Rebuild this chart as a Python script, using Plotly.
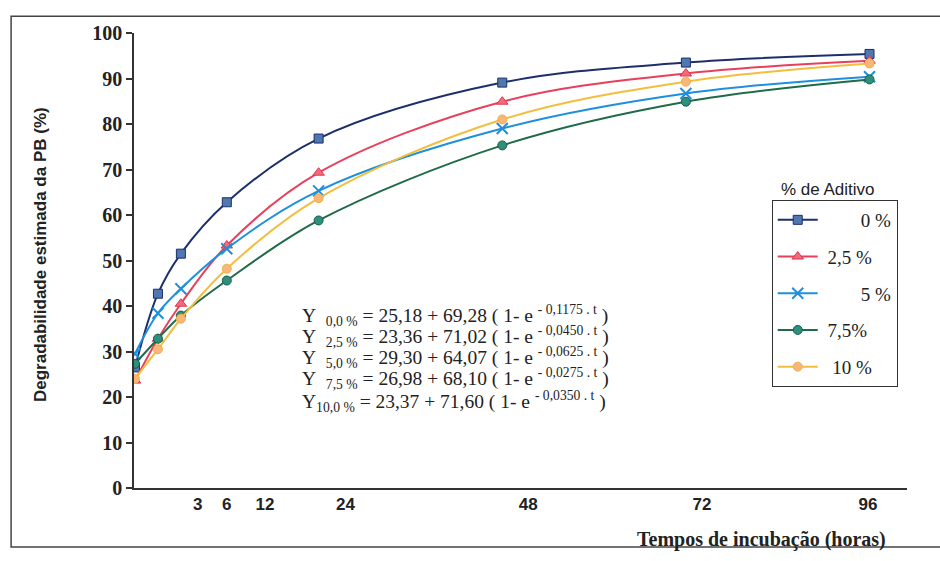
import plotly.graph_objects as go

# Incubation times (h) and estimated PB degradability (%) per additive level
times = [0, 3, 6, 12, 24, 48, 72, 96]
deg_0 = [26.5, 42.7, 51.5, 62.8, 76.8, 89.1, 93.5, 95.4]
deg_25 = [23.6, 32.8, 40.5, 53.3, 69.3, 84.9, 91.1, 93.9]
deg_5 = [29.5, 38.4, 43.8, 52.6, 65.3, 79.0, 86.7, 90.4]
deg_75 = [27.3, 32.8, 37.9, 45.6, 58.8, 75.3, 84.9, 89.8]
deg_10 = [24.0, 30.5, 37.2, 48.2, 63.7, 81.0, 89.3, 93.3]

NB = "\u00a0"
series_names = [NB * 8 + "0 %", NB + "2,5 %", NB * 8 + "5 %", NB + "7,5%", NB * 2 + "10 %"]

# Hand-typed hour labels under the time axis
xtick_labels = ["3", "6", "12", "24", "48", "72", "96"]
xtick_pos = [8.2, 12.0, 17.0, 27.5, 51.4, 74.1, 95.8]
ytick_vals = list(range(0, 101, 10))

equations = [
    "Y" + NB * 2 + "<sub>0,0 %</sub> = 25,18 + 69,28 ( 1- e <sup>- 0,1175 . t</sup> )",
    "Y" + NB * 2 + "<sub>2,5 %</sub> = 23,36 + 71,02 ( 1- e <sup>- 0,0450 . t</sup> )",
    "Y" + NB * 2 + "<sub>5,0 %</sub> = 29,30 + 64,07 ( 1- e <sup>- 0,0625 . t</sup> )",
    "Y" + NB * 2 + "<sub>7,5 %</sub> = 26,98 + 68,10 ( 1- e <sup>- 0,0275 . t</sup> )",
    "Y<sub>10,0 %</sub> = 23,37 + 71,60 ( 1- e <sup>- 0,0350 . t</sup> )",
]
equation_y = [0.380, 0.332, 0.287, 0.240, 0.190]

styles = [
    dict(line="#1c2f6b", fill="#4f77b0", edge="#1c2f6b", symbol="square", size=9),
    dict(line="#e8405c", fill="#f06c7d", edge="#e0344f", symbol="triangle-up", size=10),
    dict(line="#1e8fdc", fill="#1e8fdc", edge="#1e8fdc", symbol="x-thin", size=11),
    dict(line="#1f6b4a", fill="#2e8f7c", edge="#1a5d45", symbol="circle", size=9),
    dict(line="#f3be3e", fill="#f7b77a", edge="#f3b040", symbol="circle", size=9),
]

fig = go.Figure()
for name, ys, st in zip(series_names, [deg_0, deg_25, deg_5, deg_75, deg_10], styles):
    fig.add_trace(go.Scatter(
        x=times, y=ys, name=name, mode="lines+markers",
        line=dict(color=st["line"], width=2, shape="spline", smoothing=1.0),
        marker=dict(symbol=st["symbol"], size=st["size"], color=st["fill"],
                    line=dict(color=st["edge"], width=2 if st["symbol"] == "x-thin" else 1)),
        legendgroup=name,
    ))

serif = "Liberation Serif, Times New Roman, serif"
sans = "Liberation Sans, Arial, sans-serif"

annotations = [
    dict(text=eq, xref="paper", yref="paper", x=0.215, y=ey,
         xanchor="left", yanchor="middle", align="left", showarrow=False,
         font=dict(family=serif, size=19.5, color="#222"))
    for eq, ey in zip(equations, equation_y)
]
annotations += [
    dict(text="% de Aditivo", xref="paper", yref="paper",
         x=0.898, y=0.655, xanchor="center", yanchor="middle", showarrow=False,
         font=dict(family=sans, size=17, color="#222")),
    dict(text="<b>Degradabilidade estimada da PB (%)</b>", xref="paper", yref="paper",
         x=-0.1216, y=0.512, xanchor="center", yanchor="middle", textangle=-90,
         showarrow=False, font=dict(family=sans, size=17, color="#222")),
    dict(text="<b>Tempos de incubação (horas)</b>", xref="paper", yref="paper",
         x=0.812, y=-0.114, xanchor="center", yanchor="middle", showarrow=False,
         font=dict(family=serif, size=20, color="#222")),
]

fig.update_layout(
    width=940, height=561,
    margin=dict(l=134, r=33, t=33, b=73),
    paper_bgcolor="white", plot_bgcolor="white",
    showlegend=True,
    legend=dict(
        x=0.825, y=0.633, xanchor="left", yanchor="top",
        bordercolor="#333", borderwidth=1, bgcolor="white",
        font=dict(family=serif, size=19, color="#222"),
        tracegroupgap=9, itemwidth=40,
    ),
    xaxis=dict(
        range=[-0.13, 100.9], showgrid=False, zeroline=False,
        showline=True, linecolor="#333", linewidth=1.5,
        tickmode="array", tickvals=xtick_pos, ticktext=xtick_labels, ticks="",
        tickfont=dict(family=sans, size=17, color="#222", weight="bold"),
    ),
    yaxis=dict(
        range=[0, 100], showgrid=False, zeroline=False,
        showline=True, linecolor="#333", linewidth=1.5,
        tickmode="array", tickvals=ytick_vals, ticks="outside", ticklen=6,
        tickcolor="#333", tickwidth=1.5,
        tickfont=dict(family=serif, size=20, color="#222", weight="bold"),
    ),
    annotations=annotations,
    shapes=[
        dict(type="rect", xref="paper", yref="paper",
             x0=-0.159, x1=1.049, y0=-0.1297, y1=1.037,
             line=dict(color="#444", width=1.5), fillcolor="rgba(0,0,0,0)", layer="below"),
    ],
)

fig.write_html("out.html")
